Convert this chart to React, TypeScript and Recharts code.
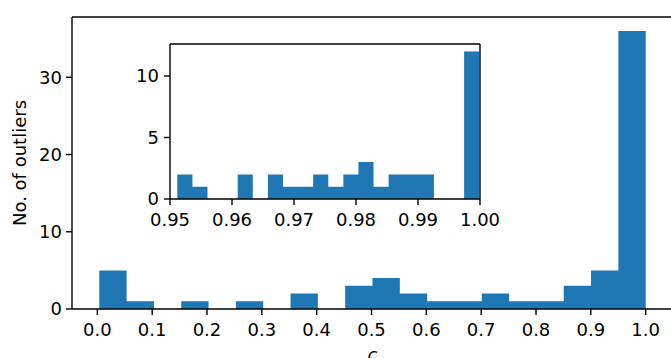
import { Area, ComposedChart, ReferenceLine, XAxis, YAxis } from "recharts";

const FONT = "DejaVu Sans, sans-serif";
const FS = 18;
const BLUE = "#1f77b4";

// main histogram: 20 bins between the data min and max
const MAIN_COUNTS = [5, 1, 0, 1, 0, 1, 0, 2, 0, 3, 4, 2, 1, 1, 2, 1, 1, 3, 5, 36];
const MAIN_RANGE = [0.0036, 1.0];
const MAIN_X_TICKS = [0, 0.1, 0.2, 0.3, 0.4, 0.5, 0.6, 0.7, 0.8, 0.9, 1.0];
const MAIN_Y_TICKS = [0, 10, 20, 30];

// inset: zoom on c >= 0.95
const INSET_COUNTS = [2, 1, 0, 0, 2, 0, 2, 1, 1, 2, 1, 2, 3, 1, 2, 2, 2, 0, 0, 12];
const INSET_RANGE = [0.95118, 0.99987];
const INSET_X_TICKS = [0.95, 0.96, 0.97, 0.98, 0.99, 1.0];
const INSET_Y_TICKS = [0, 5, 10];

function histSteps(counts: number[], range: number[]) {
  const [lo, hi] = range;
  const w = (hi - lo) / counts.length;
  const pts = counts.map((c, i) => ({ x: lo + i * w, y: c }));
  pts.push({ x: hi, y: counts[counts.length - 1] });
  return pts;
}

const mainData = histSteps(MAIN_COUNTS, MAIN_RANGE);
const insetData = histSteps(INSET_COUNTS, INSET_RANGE);

const axisProps = {
  axisLine: { stroke: "#000", strokeWidth: 1.4 },
  tickLine: { stroke: "#000", strokeWidth: 1.4 },
  tick: { fill: "#000", fontSize: FS, fontFamily: FONT },
  tickSize: 6,
};

export default function App() {
  return (
    <div
      style={{
        position: "absolute",
        left: 0,
        top: 0,
        width: 671,
        height: 358,
        overflow: "hidden",
        background: "#fff",
        fontFamily: FONT,
      }}
    >
      <ComposedChart
        width={680}
        height={358}
        data={mainData}
        margin={{ top: 17, right: 7, bottom: 0, left: 12 }}
      >
        <XAxis
          dataKey="x"
          type="number"
          domain={[-0.0462, 1.0498]}
          allowDataOverflow
          ticks={MAIN_X_TICKS}
          tickFormatter={(v: number) => v.toFixed(1)}
          tickMargin={8}
          height={49}
          {...axisProps}
          label={{
            value: "c",
            position: "insideBottom",
            offset: -3,
            fill: "#000",
            fontSize: FS,
            fontStyle: "italic",
            fontFamily: FONT,
          }}
        />
        <YAxis
          type="number"
          domain={[0, 37.8]}
          allowDataOverflow
          ticks={MAIN_Y_TICKS}
          width={60}
          tickMargin={4}
          {...axisProps}
          label={{
            value: "No. of outliers",
            angle: -90,
            position: "insideLeft",
            offset: 8,
            fill: "#000",
            fontSize: FS,
            fontFamily: FONT,
            style: { textAnchor: "middle" },
          }}
        />
        <ReferenceLine y={37.8} stroke="#000" strokeWidth={1.4} />
        <Area
          type="stepAfter"
          dataKey="y"
          baseValue={0}
          fill={BLUE}
          fillOpacity={1}
          stroke="none"
          dot={false}
          activeDot={false}
          isAnimationActive={false}
        />
      </ComposedChart>

      <div style={{ position: "absolute", left: 110, top: 30 }}>
        <ComposedChart
          width={410}
          height={205}
          data={insetData}
          margin={{ top: 14, right: 40, bottom: 0, left: 10 }}
        >
          <XAxis
            dataKey="x"
            type="number"
            domain={[0.95, 1.0]}
            allowDataOverflow
            ticks={INSET_X_TICKS}
            tickFormatter={(v: number) => v.toFixed(2)}
            tickMargin={8}
            height={36}
            {...axisProps}
          />
          <YAxis
            type="number"
            domain={[0, 12.6]}
            allowDataOverflow
            ticks={INSET_Y_TICKS}
            width={50}
            tickMargin={5}
            {...axisProps}
          />
          <ReferenceLine y={12.6} stroke="#000" strokeWidth={1.4} />
          <ReferenceLine x={1.0} stroke="#000" strokeWidth={1.4} />
          <Area
            type="stepAfter"
            dataKey="y"
            baseValue={0}
            fill={BLUE}
            fillOpacity={1}
            stroke="none"
            dot={false}
            activeDot={false}
            isAnimationActive={false}
          />
        </ComposedChart>
      </div>
    </div>
  );
}
